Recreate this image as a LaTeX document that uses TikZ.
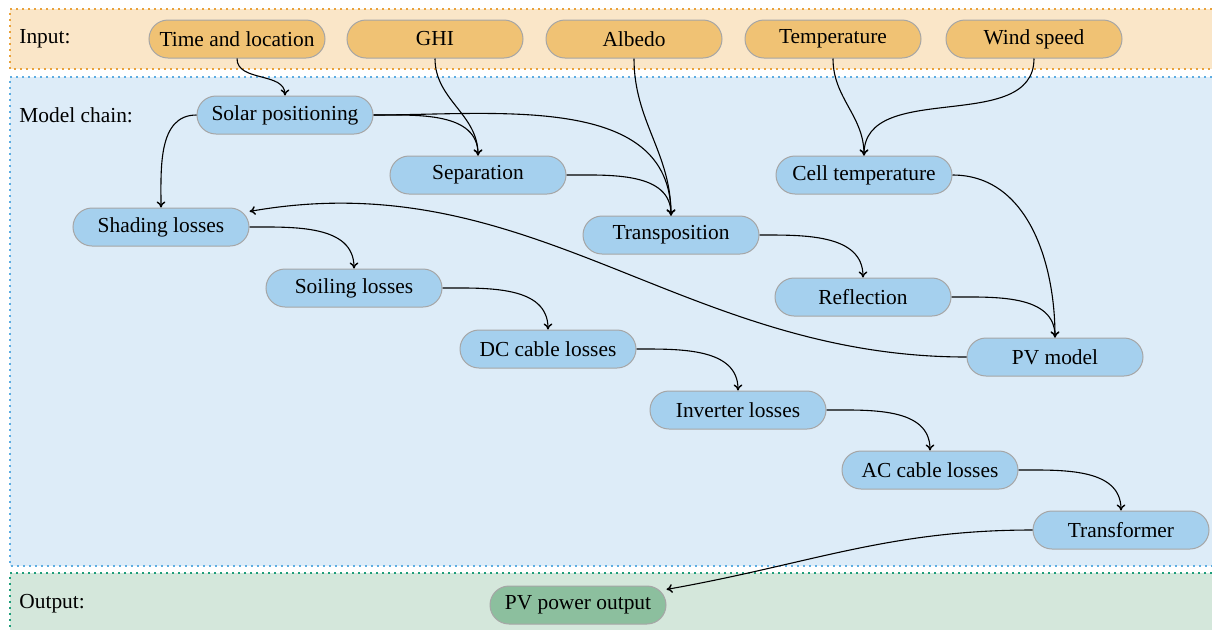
\documentclass[tikz,border=0pt]{standalone}
\usepackage{fontspec}
\setmainfont{Liberation Serif}
\usetikzlibrary{arrows.meta}
\definecolor{inband}{HTML}{FAE6C8}
\definecolor{inborder}{HTML}{E9A23B}
\definecolor{infill}{HTML}{F0C274}
\definecolor{modband}{HTML}{DDECF8}
\definecolor{modborder}{HTML}{5DADE2}
\definecolor{modfill}{HTML}{A5D0EE}
\definecolor{outband}{HTML}{D4E7DB}
\definecolor{outborder}{HTML}{1E9E7A}
\definecolor{outfill}{HTML}{8CBF9E}
\tikzset{
  band/.style={line width=0.9pt, dash pattern=on 0.9pt off 2.1pt},
  blk/.style={rounded corners=9.5pt, minimum width=88pt, minimum height=19pt,
    draw=black!35, line width=0.5pt, inner sep=0pt,
    font=\fontsize{10.7}{12}\selectfont},
  inblk/.style={blk, fill=infill},
  modblk/.style={blk, fill=modfill},
  outblk/.style={blk, fill=outfill},
  bandlabel/.style={anchor=west, inner sep=0pt, font=\fontsize{10.7}{12}\selectfont},
  conn/.style={-{To[length=3pt,width=4.4pt,line width=0.7pt]}, line width=0.55pt, black},
}
\begin{document}
\begin{tikzpicture}[x=0.5pt,y=-0.5pt]
\clip (0,0) rectangle (1212,629);
% bands
\fill[inband] (10,9) rectangle (1218,69);
\draw[band, inborder] (1218,9) -- (10,9) -- (10,69) -- (1218,69);
\fill[modband] (10,77) rectangle (1218,566);
\draw[band, modborder] (1218,77) -- (10,77) -- (10,566) -- (1218,566);
\fill[outband] (10,573) rectangle (1218,640);
\draw[band, outborder] (1218,573) -- (10,573) -- (10,640);
% band labels
\node[bandlabel] (lin) at (19,39) {Input:};
\node[bandlabel] (lmod) at (19,115) {Model chain:};
\node[bandlabel] (lout) at (19,604) {Output:};
% input nodes
\node[inblk] (time) at (237,39) {Time and location};
\node[inblk] (ghi) at (435,39) {GHI};
\node[inblk] (albedo) at (634,39) {Albedo};
\node[inblk] (temp) at (833,39) {Temperature};
\node[inblk] (wind) at (1034,39) {Wind speed};
% model chain nodes
\node[modblk] (solar) at (285,115) {Solar positioning};
\node[modblk] (sep) at (478,175) {Separation};
\node[modblk] (trans) at (671,235) {Transposition};
\node[modblk] (cell) at (864,175) {Cell temperature};
\node[modblk] (shade) at (161,227) {Shading losses};
\node[modblk] (soil) at (354,288) {Soiling losses};
\node[modblk] (refl) at (863,297) {Reflection};
\node[modblk] (dc) at (548,349) {DC cable losses};
\node[modblk] (pv) at (1055,357) {PV model};
\node[modblk] (inv) at (738,410) {Inverter losses};
\node[modblk] (ac) at (930,470) {AC cable losses};
\node[modblk] (tr) at (1121,530) {Transformer};
% output
\node[outblk] (out) at (578,605) {PV power output};
% connectors
\draw[conn] (time.south) to[out=-90,in=90] (solar.north);
\draw[conn] (ghi.south) to[out=-90,in=90] (sep.north);
\draw[conn] (albedo.south) to[out=-90,in=90] (trans.north);
\draw[conn] (temp.south) to[out=-90,in=90] (cell.north);
\draw[conn] (wind.south) to[out=-90,in=90] (cell.north);
\draw[conn] (solar.east) to[out=0,in=90] (sep.north);
\draw[conn] (solar.east) to[out=0,in=90] (trans.north);
\draw[conn] (solar.west) to[out=180,in=90] (shade.north);
\draw[conn] (sep.east) to[out=0,in=90] (trans.north);
\draw[conn] (trans.east) to[out=0,in=90] (refl.north);
\draw[conn] (cell.east) to[out=0,in=90] (pv.north);
\draw[conn] (refl.east) to[out=0,in=90] (pv.north);
\draw[conn] (pv.west) to[out=180,in=10] (shade);
\draw[conn] (shade.east) to[out=0,in=90] (soil.north);
\draw[conn] (soil.east) to[out=0,in=90] (dc.north);
\draw[conn] (dc.east) to[out=0,in=90] (inv.north);
\draw[conn] (inv.east) to[out=0,in=90] (ac.north);
\draw[conn] (ac.east) to[out=0,in=90] (tr.north);
\draw[conn] (tr.west) to[out=180,in=10] (out);
\end{tikzpicture}
\end{document}
